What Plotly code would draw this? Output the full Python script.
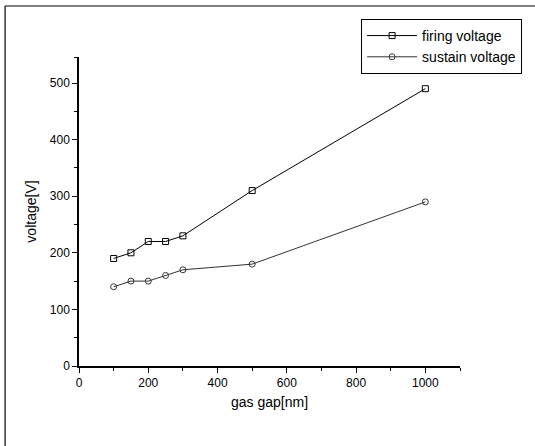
import plotly.graph_objects as go

gas_gap = [100, 150, 200, 250, 300, 500, 1000]
firing_voltage = [190, 200, 220, 220, 230, 310, 490]
sustain_voltage = [140, 150, 150, 160, 170, 180, 290]

fig = go.Figure()
fig.add_trace(go.Scatter(
    x=gas_gap, y=firing_voltage, mode="lines+markers", name="firing voltage",
    line=dict(color="black", width=1),
    marker=dict(symbol="square-open", size=6, color="black", line=dict(width=1))))
fig.add_trace(go.Scatter(
    x=gas_gap, y=sustain_voltage, mode="lines+markers", name="sustain voltage",
    line=dict(color="#333", width=1),
    marker=dict(symbol="circle-open", size=6, color="#333", line=dict(width=1))))

axis_font = dict(family="Liberation Sans, Arial", size=12, color="black")
fig.update_layout(
    width=535, height=446,
    margin=dict(l=79, r=75, t=57, b=80, autoexpand=False),
    paper_bgcolor="white", plot_bgcolor="white",
    font=dict(family="Liberation Sans, Arial", color="black"),
    showlegend=True,
    legend=dict(x=1.163, y=1.123, xanchor="right", yanchor="top",
                bordercolor="black", borderwidth=1, bgcolor="white",
                font=dict(size=14, family="Liberation Sans, Arial", color="black"),
                tracegroupgap=0, itemwidth=50),
    xaxis=dict(range=[0, 1100], tickvals=[0, 200, 400, 600, 800, 1000],
               showgrid=False, zeroline=False, showline=True, linecolor="black", linewidth=1.5,
               ticks="outside", ticklen=5, tickcolor="black", tickfont=axis_font,
               minor=dict(tickvals=[100, 300, 500, 700, 900, 1100], ticks="outside", ticklen=3, tickcolor="black"),
               title=dict(text="gas gap[nm]", font=dict(size=14, family="Liberation Sans, Arial"), standoff=8)),
    yaxis=dict(range=[0, 546], tickvals=[0, 100, 200, 300, 400, 500],
               showgrid=False, zeroline=False, showline=True, linecolor="black", linewidth=1.5,
               ticks="outside", ticklen=5, tickcolor="black", tickfont=axis_font,
               minor=dict(tickvals=[50, 150, 250, 350, 450, 546], ticks="outside", ticklen=3, tickcolor="black"),
               title=dict(text="voltage[V]", font=dict(size=14, family="Liberation Sans, Arial"), standoff=10)),
)
# outer figure frame
fig.add_shape(type="line", xref="paper", yref="paper", x0=-0.194, x1=-0.194, y0=-0.3, y1=1.165,
              line=dict(color="black", width=1.2))
fig.add_shape(type="line", xref="paper", yref="paper", x0=-0.194, x1=1.2, y0=1.165, y1=1.165,
              line=dict(color="black", width=1.2))
fig.write_html("out.html", config={"displayModeBar": False},
               post_script="document.body.style.margin='0';document.body.style.overflow='hidden';")
